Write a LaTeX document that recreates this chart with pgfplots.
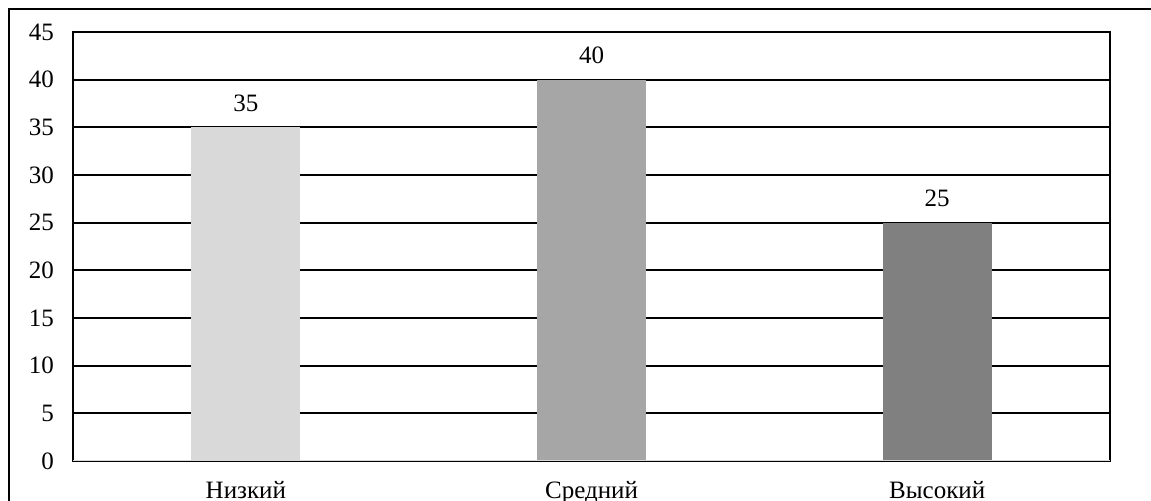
\documentclass[border=0pt]{standalone}
\usepackage{fontspec}
\setmainfont{Liberation Serif}
\usepackage{pgfplots}
\pgfplotsset{compat=1.18}

\definecolor{barA}{HTML}{D9D9D9}
\definecolor{barB}{HTML}{A6A6A6}
\definecolor{barC}{HTML}{808080}

\newcommand{\chartfont}{\fontsize{12.5}{14}\selectfont}

\begin{document}
\begin{tikzpicture}
\useasboundingbox (0,0) rectangle (575.5pt,-250.5pt);
% outer frame (right and bottom run off the picture)
\draw[line width=0.8pt] (4.5pt,-251pt) -- (4.5pt,-4.5pt) -- (576pt,-4.5pt);
\begin{axis}[
    at={(36.5pt,-230.5pt)}, anchor=south west,
    scale only axis,
    width=518.5pt, height=214.5pt,
    xmin=-0.5, xmax=2.5,
    ymin=0, ymax=45,
    ytick={0,5,...,45},
    xtick={0,1,2},
    xticklabels={Низкий,Средний,Высокий},
    major tick length=0pt,
    ymajorgrids,
    grid style={black, line width=0.85pt},
    axis line style={black, line width=0.85pt},
    /pgf/number format/assume math mode=true,
    tick label style={font=\chartfont},
    yticklabel style={xshift=-6pt},
    xticklabel style={yshift=-6.5pt},
    ybar, bar width=0.315,
    bar shift=0pt,
    nodes near coords,
    nodes near coords style={font=\chartfont, yshift=4.5pt, black},
]
\addplot[fill=barA, draw=none] coordinates {(0,35)};
\addplot[fill=barB, draw=none] coordinates {(1,40)};
\addplot[fill=barC, draw=none] coordinates {(2,25)};
\draw[barA, line width=1pt] (rel axis cs:0,0) -- (rel axis cs:1,0);
\end{axis}
\end{tikzpicture}
\end{document}
